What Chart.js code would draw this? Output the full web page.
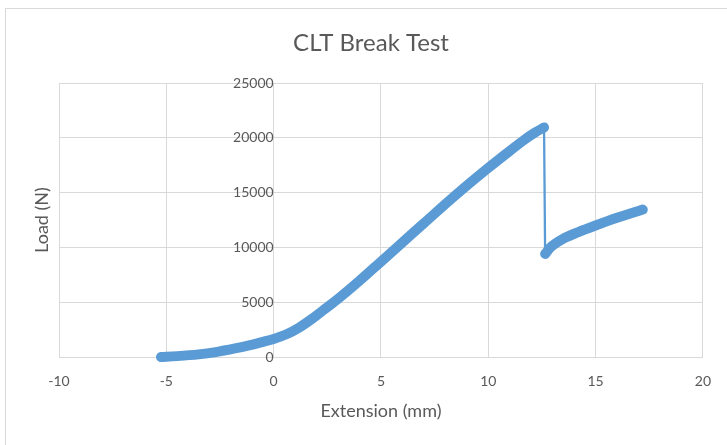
<!DOCTYPE html>
<html>
<head>
<meta charset="utf-8">
<title>CLT Break Test</title>
<script src="https://cdn.jsdelivr.net/npm/chart.js@4.4.1/dist/chart.umd.min.js"></script>
<style>
    html, body { margin: 0; padding: 0; background: #fff; overflow: hidden; }
    #frame { position: absolute; left: 5px; top: 8px; width: 760px; height: 480px; border: 1px solid #d9d9d9; }
    #wrap { position: absolute; left: 0; top: 0; width: 727px; height: 445px; }
</style>
</head>
<body>
<div id="frame"></div>
<div id="wrap"><canvas id="chart"></canvas></div>
<script>
// Datos: antes y después de la rotura
const extensionBefore = [-5.25, -4.5, -3.5, -2.7, -1.8, -1.1, -0.5, 0, 0.6, 1.2, 1.8, 2.4, 3.0, 4.0, 5.0, 6.0, 7.0, 8.5, 10.0, 11.0, 11.7, 12.2, 12.6];
const loadBefore = [0, 80, 240, 450, 780, 1080, 1380, 1650, 2080, 2700, 3500, 4400, 5300, 6950, 8700, 10450, 12200, 14800, 17250, 18800, 19850, 20500, 20950];
const extensionAfter = [12.65, 12.9, 13.5, 14.2, 15.0, 16.0, 17.2];
const loadAfter = [9400, 10000, 10800, 11400, 12000, 12700, 13450];

// Ticks de los ejes
const xTicks = [-10, -5, 0, 5, 10, 15, 20];
const yTicks = [0, 5000, 10000, 15000, 20000, 25000];

const BLUE = '#5b9bd5';
const GRID = '#d9d9d9';
const TEXT = '#595959';
const FONT = "Lato, 'Open Sans', sans-serif";

const toPoints = (xs, ys) => xs.map((x, i) => ({ x, y: ys[i] }));

const before = toPoints(extensionBefore, loadBefore);
const after = toPoints(extensionAfter, loadAfter);
// Caída: último punto antes de la rotura -> primer punto después
const drop = [before[before.length - 1], after[0]];

const thick = {
    showLine: true,
    borderColor: BLUE,
    backgroundColor: BLUE,
    borderWidth: 10,
    borderCapStyle: 'round',
    borderJoinStyle: 'round',
    cubicInterpolationMode: 'monotone',
    pointRadius: 0,
    clip: false,
    xAxisID: 'x',
    yAxisID: 'y'
};

new Chart(document.getElementById('chart'), {
    type: 'scatter',
    data: {
        datasets: [
            { ...thick, label: 'Antes', data: before },
            { ...thick, label: 'Caída', data: drop, borderWidth: 2.3, cubicInterpolationMode: 'default' },
            { ...thick, label: 'Después', data: after }
        ]
    },
    options: {
        responsive: true,
        maintainAspectRatio: false,
        animation: false,
        layout: { padding: { left: 38, right: 23, top: 0, bottom: 0 } },
        plugins: {
            legend: { display: false },
            tooltip: { enabled: false },
            title: {
                display: true,
                text: 'CLT Break Test',
                color: TEXT,
                font: { family: FONT, size: 24, weight: 'normal' },
                padding: { top: 28.6, bottom: 25.6 }
            }
        },
        scales: {
            x: {
                type: 'linear',
                position: 'bottom',
                min: -10,
                max: 20,
                afterBuildTicks: (scale) => { scale.ticks = xTicks.map(v => ({ value: v })); },
                afterFit: (scale) => { scale.height = 88; },
                grid: { color: GRID, lineWidth: 1, drawTicks: false },
                border: { color: GRID },
                ticks: { color: TEXT, font: { family: FONT, size: 14 }, padding: 16, callback: (v) => String(v) },
                title: {
                    display: true,
                    text: 'Extension (mm)',
                    color: TEXT,
                    font: { family: FONT, size: 18 },
                    padding: { top: 0, bottom: 23.2 }
                }
            },
            y: {
                type: 'linear',
                position: { x: 0 },
                min: 0,
                max: 25000,
                afterBuildTicks: (scale) => { scale.ticks = yTicks.map(v => ({ value: v })); },
                grid: { color: GRID, lineWidth: 1, drawTicks: false },
                border: { color: GRID },
                ticks: { color: TEXT, font: { family: FONT, size: 14 }, padding: 18, callback: (v) => String(v) }
            },
            // Eje auxiliar solo para el título vertical
            yTitle: {
                type: 'linear',
                position: 'left',
                afterFit: (scale) => { scale.width = 21; },
                grid: { display: false },
                border: { display: false },
                ticks: { display: false },
                title: {
                    display: true,
                    text: 'Load (N)',
                    color: TEXT,
                    font: { family: FONT, size: 18 },
                    padding: { top: -6.8, bottom: 0 }
                }
            }
        }
    }
});
</script>
</body>
</html>
